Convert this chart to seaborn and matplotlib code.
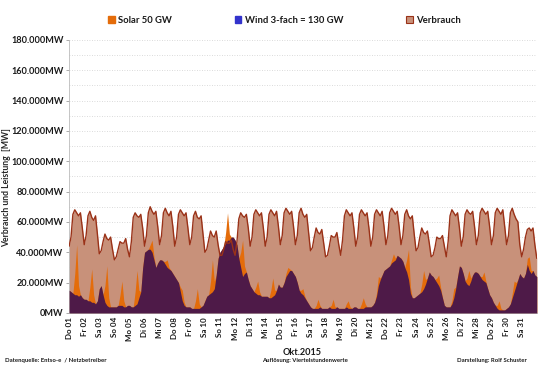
import numpy as np
import pandas as pd
import matplotlib
matplotlib.use("Agg")
import matplotlib.pyplot as plt
import seaborn as sns
from matplotlib.patches import Patch
from matplotlib.ticker import MultipleLocator, FuncFormatter

day_labels = ["Do 01", "Fr 02", "Sa 03", "So 04", "Mo 05", "Di 06", "Mi 07", "Do 08",
              "Fr 09", "Sa 10", "So 11", "Mo 12", "Di 13", "Mi 14", "Do 15", "Fr 16",
              "Sa 17", "So 18", "Mo 19", "Di 20", "Mi 21", "Do 22", "Fr 23", "Sa 24",
              "So 25", "Mo 26", "Di 27", "Mi 28", "Do 29", "Fr 30", "Sa 31"]

# values in GW, one row per day, 3-hour steps (0, 3, ..., 21 h)
verbrauch = [
    [44, 50, 65, 68, 66, 64, 66, 56],
    [45, 51, 64, 67, 63, 61, 64, 52],
    [39, 41, 47, 52, 49, 48, 50, 42],
    [35, 37, 42, 47, 46, 46, 49, 42],
    [37, 47, 63, 66, 64, 63, 65, 56],
    [44, 51, 66, 70, 67, 65, 67, 57],
    [45, 51, 66, 69, 66, 64, 67, 57],
    [44, 50, 65, 68, 66, 64, 66, 56],
    [45, 50, 64, 67, 63, 62, 64, 52],
    [40, 42, 48, 54, 51, 50, 54, 45],
    [38, 38, 42, 47, 46, 46, 48, 42],
    [38, 47, 62, 66, 64, 63, 65, 56],
    [44, 50, 65, 68, 66, 64, 66, 56],
    [44, 50, 65, 68, 66, 64, 67, 57],
    [45, 51, 66, 69, 67, 65, 67, 57],
    [45, 51, 66, 69, 65, 63, 65, 53],
    [41, 43, 50, 56, 53, 52, 55, 46],
    [37, 38, 44, 51, 50, 50, 53, 45],
    [38, 48, 64, 68, 66, 64, 66, 56],
    [44, 50, 65, 68, 66, 64, 66, 56],
    [44, 50, 65, 68, 66, 64, 67, 57],
    [45, 51, 66, 69, 67, 65, 67, 57],
    [45, 51, 65, 68, 64, 62, 64, 52],
    [41, 43, 50, 56, 53, 52, 54, 46],
    [37, 38, 43, 50, 49, 49, 51, 44],
    [37, 47, 64, 68, 66, 64, 66, 56],
    [44, 50, 65, 68, 66, 65, 67, 57],
    [45, 51, 66, 69, 67, 65, 67, 57],
    [45, 51, 66, 69, 67, 65, 68, 57],
    [45, 51, 66, 69, 65, 62, 60, 45],
    [37, 42, 50, 55, 56, 54, 56, 45],
]
verbrauch_end = 36

wind = [
    [15, 14, 13, 12, 12, 11, 12, 10],
    [9, 9, 8, 8, 7, 7, 6, 8],
    [16, 18, 12, 7, 5, 4, 4, 4],
    [4, 4, 5, 5, 5, 4, 4, 5],
    [5, 4, 4, 5, 6, 10, 14, 30],
    [40, 41, 42, 42, 40, 35, 30, 33],
    [35, 35, 34, 32, 30, 29, 28, 26],
    [24, 22, 20, 14, 8, 5, 4, 4],
    [4, 3, 3, 3, 3, 3, 4, 5],
    [8, 11, 12, 13, 14, 16, 25, 36],
    [40, 42, 44, 46, 48, 48, 50, 50],
    [48, 45, 36, 30, 24, 26, 27, 22],
    [18, 16, 14, 13, 12, 12, 11, 11],
    [11, 11, 10, 10, 11, 12, 15, 19],
    [17, 17, 20, 24, 26, 28, 28, 26],
    [24, 20, 15, 13, 12, 10, 8, 6],
    [4, 3, 3, 3, 3, 4, 3, 3],
    [3, 3, 4, 3, 3, 3, 4, 3],
    [3, 3, 3, 4, 3, 3, 3, 4],
    [4, 3, 3, 3, 3, 4, 4, 4],
    [4, 5, 7, 11, 18, 22, 25, 28],
    [29, 30, 31, 33, 34, 35, 38, 37],
    [36, 34, 30, 27, 22, 13, 10, 10],
    [11, 12, 13, 14, 16, 19, 23, 27],
    [25, 24, 22, 20, 18, 15, 10, 5],
    [4, 4, 4, 6, 10, 16, 24, 31],
    [30, 26, 21, 19, 18, 21, 25, 27],
    [27, 26, 24, 22, 21, 20, 16, 12],
    [10, 7, 5, 3, 2, 2, 2, 2],
    [3, 4, 6, 10, 14, 18, 22, 26],
    [24, 23, 26, 32, 28, 26, 28, 25],
]
wind_end = 24

solar = [
    [0, 0, 0, 14, 33, 7, 0, 0],
    [0, 0, 0, 9, 22, 5, 0, 0],
    [0, 0, 0, 11, 26, 6, 0, 0],
    [0, 0, 0, 7, 16, 4, 0, 0],
    [0, 0, 0, 9, 22, 5, 0, 0],
    [0, 0, 0, 3, 8, 2, 0, 0],
    [0, 0, 0, 2, 5, 1, 0, 0],
    [0, 0, 0, 3, 7, 2, 0, 0],
    [0, 0, 0, 5, 13, 3, 0, 0],
    [0, 0, 0, 8, 21, 5, 0, 0],
    [0, 0, 0, 7, 18, 4, 0, 0],
    [0, 0, 0, 10, 24, 5, 0, 0],
    [0, 0, 0, 4, 9, 2, 0, 0],
    [0, 0, 0, 5, 12, 3, 0, 0],
    [0, 0, 0, 2, 4, 1, 0, 0],
    [0, 0, 0, 2, 4, 1, 0, 0],
    [0, 0, 0, 2, 6, 1, 0, 0],
    [0, 0, 0, 2, 6, 1, 0, 0],
    [0, 0, 0, 2, 5, 1, 0, 0],
    [0, 0, 0, 3, 7, 2, 0, 0],
    [0, 0, 0, 2, 6, 1, 0, 0],
    [0, 0, 0, 2, 5, 1, 0, 0],
    [0, 0, 0, 8, 20, 4, 0, 0],
    [0, 0, 0, 5, 12, 3, 0, 0],
    [0, 0, 0, 3, 7, 2, 0, 0],
    [0, 0, 0, 2, 6, 1, 0, 0],
    [0, 0, 0, 4, 10, 2, 0, 0],
    [0, 0, 0, 2, 6, 1, 0, 0],
    [0, 0, 0, 2, 6, 1, 0, 0],
    [0, 0, 0, 3, 7, 2, 0, 0],
    [0, 0, 0, 4, 9, 2, 0, 0],
]
solar_end = 0

C_VERBRAUCH = "#C8917A"
C_LINE = "#9A3218"
C_SOLAR = "#E46C0A"
C_WIND = "#4E1A48"
C_WIND_LEG = "#3333CC"

v = np.append(np.ravel(verbrauch), verbrauch_end)
w = np.append(np.ravel(wind), wind_end)
s = np.append(np.ravel(solar), solar_end)
df = pd.DataFrame({"t": np.arange(len(v)) / 8, "verbrauch": v, "wind": w, "solar": s})
df["wind_solar"] = df["wind"] + df["solar"]

sns.set_theme(style="white")
plt.rcParams["font.family"] = ["Lato", "DejaVu Sans"]
plt.rcParams["font.weight"] = "bold"
plt.rcParams["text.color"] = "#1A1A1A"

fig = plt.figure(figsize=(5.4, 3.66), dpi=100)
ax = fig.add_axes([0.128, 0.145, 0.866, 0.746])

ax.fill_between(df["t"], 0, df["verbrauch"], color=C_VERBRAUCH, lw=0, zorder=1)
ax.fill_between(df["t"], 0, df["wind_solar"], color=C_SOLAR, lw=0, zorder=2)
ax.fill_between(df["t"], 0, df["wind"], color=C_WIND, lw=0, zorder=3)
sns.lineplot(data=df, x="t", y="verbrauch", color=C_LINE, lw=1.0, ax=ax, zorder=4)

ax.set_xlim(0, 31)
ax.set_ylim(0, 180)
ax.yaxis.set_major_locator(MultipleLocator(20))
ax.yaxis.set_minor_locator(MultipleLocator(10))
ax.yaxis.set_major_formatter(FuncFormatter(lambda val, p: f"{int(round(val * 1000)):,}".replace(",", ".") + "MW"))
ax.grid(which="both", axis="y", color="#CFCFCF", linestyle=(0, (1, 2)), lw=0.6)
ax.set_axisbelow(True)

ax.set_xticks(np.arange(len(day_labels)))
ax.set_xticklabels(day_labels, rotation=90, fontsize=5.8, fontweight="bold", color="#1A1A1A")
for lab in ax.get_yticklabels():
    lab.set_fontweight("bold")
ax.tick_params(axis="y", labelsize=6.6, length=2, width=0.5, color="#888888", pad=2,
               left=True, labelcolor="#1A1A1A")
ax.tick_params(axis="x", length=0, pad=3)

for side in ["top", "right"]:
    ax.spines[side].set_visible(False)
ax.spines["left"].set_color("#BBBBBB")
ax.spines["left"].set_linewidth(0.6)
ax.spines["bottom"].set_color("#BBBBBB")
ax.spines["bottom"].set_linewidth(0.6)

ax.set_xlabel("")
ax.set_ylabel("Verbrauch und Leistung  [MW]", fontsize=6.2, fontweight="bold")
ax.yaxis.set_label_coords(-0.124, 0.46)

handles = [Patch(facecolor=C_SOLAR, edgecolor=C_SOLAR),
           Patch(facecolor=C_WIND_LEG, edgecolor=C_WIND_LEG),
           Patch(facecolor=C_VERBRAUCH, edgecolor=C_LINE, lw=0.8)]
fig.legend(handles, ["Solar 50 GW", "Wind 3-fach = 130 GW", "Verbrauch"],
           loc="center", bbox_to_anchor=(0.527, 0.945), ncol=3, frameon=False,
           columnspacing=6.6, handlelength=0.7, handleheight=0.7, handletextpad=0.4,
           prop={"size": 6.8, "weight": "bold"})

fig.text(0.559, 0.038, "Okt.2015", ha="center", va="center", fontsize=6.6, fontweight="bold")
fig.text(0.01, 0.016, "Datenquelle: Entso-e  / Netzbetreiber", ha="left", va="center", fontsize=4.3)
fig.text(0.565, 0.016, "Auflösung: Viertelstundenwerte", ha="center", va="center", fontsize=4.3)
fig.text(0.976, 0.016, "Darstellung: Rolf Schuster", ha="right", va="center", fontsize=4.3)

fig.savefig("out.png", dpi=100)
